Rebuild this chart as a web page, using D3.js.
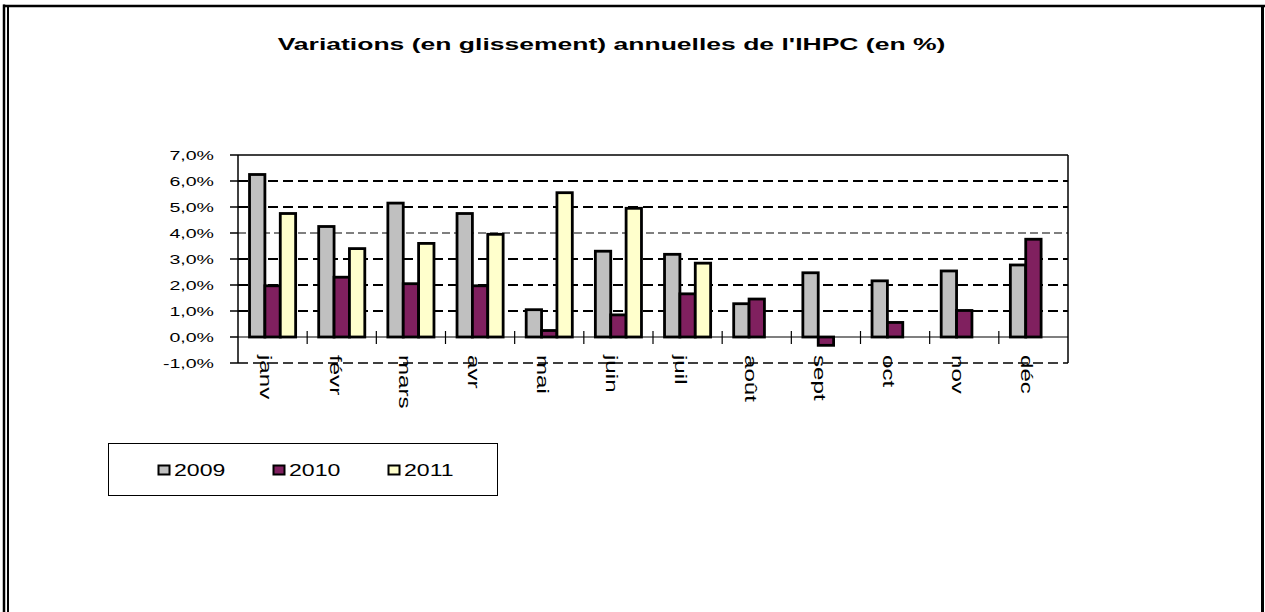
<!DOCTYPE html>
<html>
<head>
<meta charset="utf-8">
<script src="https://cdn.jsdelivr.net/npm/d3@7"></script>
<style>
  body { margin: 0; background: #fff; }
  text { font-family: "Liberation Sans", Arial, sans-serif; fill: #000; }
</style>
</head>
<body>
<svg id="chart" width="1265" height="612"></svg>
<script>
// Donnees
const months = ['janv', 'févr', 'mars', 'avr', 'mai', 'juin', 'juil', 'août', 'sept', 'oct', 'nov', 'déc'];
const series = ['2009', '2010', '2011'];
const v2009 = [6.25, 4.25, 5.15, 4.75, 1.05, 3.3, 3.18, 1.28, 2.47, 2.16, 2.54, 2.77];
const v2010 = [1.97, 2.3, 2.05, 1.97, 0.25, 0.85, 1.66, 1.46, -0.32, 0.56, 1.02, 3.76];
const v2011 = [4.75, 3.4, 3.6, 3.95, 5.55, 4.95, 2.84, null, null, null, null, null];
const yTicks = [-1, 0, 1, 2, 3, 4, 5, 6, 7];
const title = "Variations (en glissement) annuelles de l'IHPC (en %)";

// Style
const COLORS = { '2009': '#c0c0c0', '2010': '#80205f', '2011': '#ffffcc' };
const PLOT = { left: 238, right: 1068, top: 155, bottom: 363 };
const STRETCH = 1.5;   // le texte de l'original est etire dans le sens de lecture

const values = [v2009, v2010, v2011];
const rows = months.map((m, i) => ({
  month: m,
  bars: series.map((s, j) => ({ key: s, v: values[j][i] })).filter(b => b.v !== null)
}));

const fr = d3.formatLocale({ decimal: ',', thousands: ' ', grouping: [3], currency: ['', ' €'], minus: '-' });
const fmt = fr.format('.1f');

const svg = d3.select('#chart');

// -------- Cadre exterieur --------
const frame = svg.append('g').attr('stroke', '#000').attr('fill', 'none');
frame.append('line').attr('x1', 4).attr('x2', 4).attr('y1', 4.5).attr('y2', 612).attr('stroke-width', 2.5);
frame.append('line').attr('x1', 8).attr('x2', 8).attr('y1', 7).attr('y2', 612).attr('stroke-width', 2);
frame.append('line').attr('x1', 3).attr('x2', 1265).attr('y1', 6).attr('y2', 6).attr('stroke-width', 2.5);
frame.append('line').attr('x1', 1262.5).attr('x2', 1262.5).attr('y1', 5).attr('y2', 612).attr('stroke-width', 3);

// -------- Titre --------
svg.append('g')
  .attr('transform', `translate(611.5,50) scale(1.56,1)`)
  .append('text')
  .attr('text-anchor', 'middle')
  .attr('font-size', 17)
  .attr('font-weight', 'bold')
  .text(title);

// -------- Echelles --------
const x0 = d3.scaleBand().domain(months).range([PLOT.left, PLOT.right]).padding(0);
const x1 = d3.scaleBand().domain(series).range([0, x0.bandwidth()]).paddingInner(0).paddingOuter(0.75);
const y = d3.scaleLinear().domain([-1, 7]).range([PLOT.bottom, PLOT.top]);

// -------- Grille --------
const grid = svg.append('g');
grid.selectAll('line.grid')
  .data(yTicks.filter(t => t !== 0 && t !== 7))
  .join('line')
  .attr('class', 'grid')
  .attr('x1', PLOT.left).attr('x2', PLOT.right)
  .attr('y1', d => y(d)).attr('y2', d => y(d))
  .attr('stroke', '#000')
  .attr('stroke-width', d => d === 4 ? 1.2 : (d === -1 ? 1.5 : 2))
  .attr('stroke-dasharray', d => d === 4 ? '8,4' : '10,5');
grid.append('line')
  .attr('x1', PLOT.left).attr('x2', PLOT.right)
  .attr('y1', y(7)).attr('y2', y(7))
  .attr('stroke', '#000').attr('stroke-width', 1.5);
// bord droit
grid.append('line')
  .attr('x1', PLOT.right).attr('x2', PLOT.right)
  .attr('y1', y(7)).attr('y2', y(-1))
  .attr('stroke', '#000').attr('stroke-width', 1.5);

// -------- Barres --------
svg.append('g')
  .selectAll('g')
  .data(rows)
  .join('g')
  .attr('transform', d => `translate(${x0(d.month)},0)`)
  .selectAll('rect')
  .data(d => d.bars)
  .join('rect')
  .attr('x', d => x1(d.key))
  .attr('width', x1.bandwidth())
  .attr('y', d => y(Math.max(d.v, 0)))
  .attr('height', d => Math.abs(y(d.v) - y(0)))
  .attr('fill', d => COLORS[d.key])
  .attr('stroke', '#000')
  .attr('stroke-width', 2.8);

// -------- Axe des abscisses (0 %) --------
const xAxis = svg.append('g').attr('stroke', '#000');
xAxis.append('line')
  .attr('x1', PLOT.left).attr('x2', PLOT.right)
  .attr('y1', y(0)).attr('y2', y(0))
  .attr('stroke-width', 1.2);
xAxis.selectAll('line.tick')
  .data(months.slice(1))
  .join('line')
  .attr('class', 'tick')
  .attr('x1', d => x0(d)).attr('x2', d => x0(d))
  .attr('y1', y(0) - 6).attr('y2', y(0) + 7)
  .attr('stroke-width', 1.2);

svg.append('g')
  .selectAll('g')
  .data(months)
  .join('g')
  .attr('transform', d => `translate(${x0(d) + x0.bandwidth() / 2 - 7},${PLOT.bottom - 8}) rotate(90) scale(1.42,1)`)
  .append('text')
  .attr('font-size', 17)
  .attr('dy', '0.3em')
  .text(d => d);

// -------- Axe des ordonnees --------
const yAxis = svg.append('g');
yAxis.append('line')
  .attr('x1', PLOT.left).attr('x2', PLOT.left)
  .attr('y1', y(7)).attr('y2', y(-1))
  .attr('stroke', '#000').attr('stroke-width', 1.5);
yAxis.selectAll('line.tick')
  .data(yTicks)
  .join('line')
  .attr('class', 'tick')
  .attr('x1', PLOT.left - 8).attr('x2', PLOT.left)
  .attr('y1', d => y(d)).attr('y2', d => y(d))
  .attr('stroke', '#000').attr('stroke-width', 1.5);
yAxis.selectAll('g.lbl')
  .data(yTicks)
  .join('g')
  .attr('class', 'lbl')
  .attr('transform', d => `translate(214,${y(d) + 5}) scale(1.45,1)`)
  .append('text')
  .attr('text-anchor', 'end')
  .attr('font-size', 13.5)
  .text(d => fmt(d) + '%');

// -------- Legende --------
const legend = svg.append('g');
legend.append('rect')
  .attr('x', 108.5).attr('y', 443.5).attr('width', 389).attr('height', 52)
  .attr('fill', '#fff').attr('stroke', '#000').attr('stroke-width', 1);
const item = legend.selectAll('g.item')
  .data(series)
  .join('g')
  .attr('class', 'item')
  .attr('transform', (d, i) => `translate(${158 + i * 115},0)`);
item.append('rect')
  .attr('x', 0.5).attr('y', 465.5).attr('width', 11).attr('height', 9)
  .attr('fill', d => COLORS[d]).attr('stroke', '#000').attr('stroke-width', 2);
item.append('g')
  .attr('transform', `translate(16,476) scale(1.4,1)`)
  .append('text')
  .attr('font-size', 16.5)
  .text(d => d);
</script>
</body>
</html>
